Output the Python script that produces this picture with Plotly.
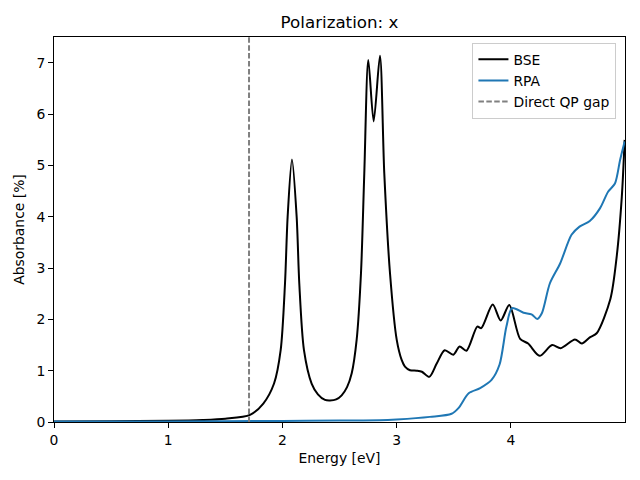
import plotly.graph_objects as go

# Data
bse_energy = [0.0, 0.5, 1.0, 1.3, 1.5, 1.716, 1.832, 1.926, 1.984, 2.022, 2.045, 2.083,
              2.124, 2.147, 2.188, 2.255, 2.31, 2.372, 2.416, 2.47, 2.518, 2.565, 2.606, 2.649,
              2.687, 2.716, 2.751, 2.798, 2.853, 2.891, 2.941, 3.0, 3.043, 3.072, 3.116,
              3.175, 3.22, 3.285, 3.35, 3.42, 3.495, 3.55, 3.61, 3.705, 3.74, 3.84, 3.91,
              3.985, 4.08, 4.15, 4.25, 4.36, 4.435, 4.56, 4.62, 4.69, 4.75, 4.87, 4.925,
              4.97, 4.995]
bse_abs = [0.01, 0.015, 0.025, 0.04, 0.065, 0.14, 0.36, 0.75, 1.40, 2.70, 4.00, 5.12,
           4.00, 2.70, 1.40, 0.75, 0.54, 0.43, 0.42, 0.44, 0.52, 0.68, 0.95, 1.60,
           2.90, 4.85, 7.06, 5.86, 7.14, 4.85, 2.90, 1.60, 1.21, 1.08, 1.01,
           1.00, 0.98, 0.88, 1.14, 1.40, 1.31, 1.47, 1.39, 1.86, 1.83, 2.29, 1.98,
           2.28, 1.62, 1.53, 1.29, 1.50, 1.44, 1.61, 1.53, 1.65, 1.73, 2.40, 3.22,
           4.39, 5.50]

rpa_energy = [0.0, 1.0, 2.0, 2.5, 2.85, 3.0, 3.29, 3.48, 3.54, 3.63, 3.73, 3.83, 3.90, 3.96,
              4.01, 4.11, 4.18, 4.23, 4.27, 4.34, 4.43, 4.53, 4.60, 4.69, 4.78, 4.85, 4.91,
              4.955, 4.995]
rpa_abs = [0.01, 0.012, 0.02, 0.03, 0.035, 0.05, 0.10, 0.16, 0.27, 0.56, 0.66, 0.82, 1.12, 1.86,
           2.22, 2.13, 2.10, 2.01, 2.12, 2.70, 3.09, 3.65, 3.81, 3.92, 4.17, 4.49, 4.65,
           5.11, 5.47]

qp_gap = 1.707
x_range = [0, 4.998]
y_range = [0, 7.506]
x_ticks = [0, 1, 2, 3, 4]
y_ticks = [0, 1, 2, 3, 4, 5, 6, 7]

fig = go.Figure()
fig.add_trace(go.Scatter(x=bse_energy, y=bse_abs, mode="lines", name="BSE",
                         line=dict(color="black", width=2, shape="spline", smoothing=0.8)))
fig.add_trace(go.Scatter(x=rpa_energy, y=rpa_abs, mode="lines", name="RPA",
                         line=dict(color="#1f77b4", width=2, shape="spline", smoothing=0.8)))
fig.add_trace(go.Scatter(x=[qp_gap, qp_gap], y=y_range, mode="lines", name="Direct QP gap",
                         line=dict(color="gray", width=2, dash="5.5px,2.4px")))

axis_common = dict(showline=True, linecolor="black", linewidth=1, mirror=True,
                   ticks="outside", ticklen=5, tickwidth=1, tickcolor="black",
                   showgrid=False, zeroline=False, automargin=False,
                   tickfont=dict(family="DejaVu Sans", size=13.9, color="black"))

# The page puts the figure 8 px from the top-left corner, so margins are shifted by 8 px.
fig.update_layout(
    width=640, height=480,
    margin=dict(l=46, r=23, t=29, b=66),
    paper_bgcolor="white", plot_bgcolor="white",
    font=dict(family="DejaVu Sans", size=13.9, color="black"),
    title=dict(text="Polarization: x", x=0.5, xref="paper", y=1 - 14 / 480, yref="container",
               xanchor="center", yanchor="middle", font=dict(size=16.7, color="black")),
    xaxis=dict(range=x_range, tickvals=x_ticks,
               title=dict(text="Energy [eV]", standoff=6, font=dict(size=13.9)), **axis_common),
    yaxis=dict(range=y_range, tickvals=y_ticks,
               title=dict(text="Absorbance [%]", standoff=8, font=dict(size=13.9)), **axis_common),
    legend=dict(x=0.985, y=0.985, xanchor="right", yanchor="top",
                bgcolor="rgba(255,255,255,0.8)", bordercolor="#cccccc", borderwidth=1,
                font=dict(size=13.9), tracegroupgap=0),
    showlegend=True,
)

fig.write_html("out.html")
